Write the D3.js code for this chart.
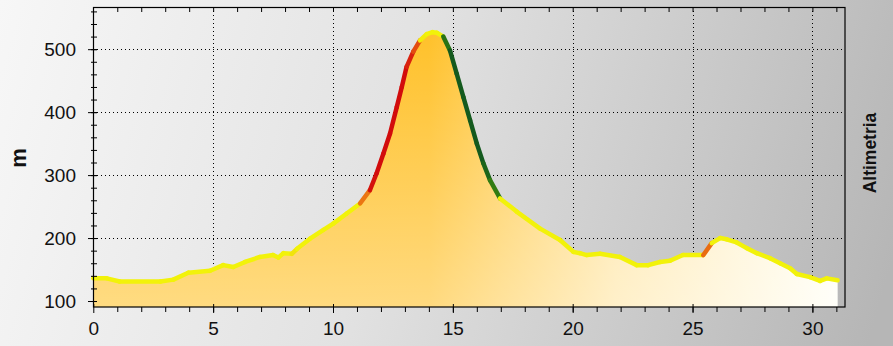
<!DOCTYPE html>
<head>
  <meta charset="utf-8" />
  <script src="https://d3js.org/d3.v7.min.js"></script>
  <style>
    body { margin: 0; }
    text { font-family: "Liberation Sans", Arial, sans-serif; fill: #111; }
    .tick text { font-size: 19px; }
  </style>
</head>
<body>
<script>
  var width = 893, height = 346;

  // distanza (km) e quota (m)
  var km = [0, 0.56, 1.1, 2.8, 3.34, 3.96, 4.87, 5.42, 5.84, 6.33, 6.95, 7.5, 7.72, 7.93, 8.28, 8.5, 9.04, 9.6, 10.01, 10.57,
    11.13, 11.54, 11.82, 12.1, 12.38, 12.66, 12.87, 13.07, 13.35, 13.63, 13.91, 14.15, 14.33, 14.6, 14.88, 15.16, 15.44, 15.72,
    16.0, 16.27, 16.55, 16.97, 17.66, 18.64, 19.47, 20.03, 20.3, 20.58, 21.14, 21.97, 22.67, 23.15, 23.64, 24.06, 24.6, 25.45,
    25.8, 26.15, 26.42, 26.84, 27.26, 27.68, 28.23, 28.65, 29.07, 29.35, 29.9, 30.32, 30.6, 31.05];
  var alt = [136, 136, 131, 131, 134, 145, 148, 157, 154, 162, 170, 173, 169, 176, 175, 183, 199, 213, 223, 239,
    255, 276, 303, 334, 366, 408, 440, 472, 496, 514, 524, 527, 526, 520, 498, 461, 424, 387,
    350, 319, 292, 263, 242, 215, 197, 178, 176, 173, 175, 170, 157, 157, 162, 164, 173, 173,
    192, 200, 198, 193, 184, 176, 168, 160, 152, 143, 138, 132, 136, 133];

  var xMajor = [0, 5, 10, 15, 20, 25, 30];
  var yMajor = [100, 200, 300, 400, 500];

  var data = km.map(function (d, i) { return { km: d, alt: alt[i] }; });

  var x = d3.scaleLinear().domain([0, 31.36]).range([93.3, 845]);
  var y = d3.scaleLinear().domain([90.5, 567]).range([307, 7]);

  // colore in base alla pendenza (m/km)
  var slopeColor = d3.scaleLinear()
    .domain([-110, -70, -45, -35, 35, 45, 70, 100])
    .range(["#145a1e", "#2f7a12", "#8aab1a", "#f2f20a", "#f2f20a", "#ee8a12", "#e03a10", "#d20c0c"])
    .clamp(true);

  var svg = d3.select("body").append("svg")
    .attr("width", width).attr("height", height);

  var defs = svg.append("defs");
  var bg = defs.append("linearGradient").attr("id", "bg")
    .attr("gradientUnits", "userSpaceOnUse")
    .attr("x1", 0).attr("y1", 0).attr("x2", 893).attr("y2", 260);
  bg.append("stop").attr("offset", 0).attr("stop-color", "#f7f7f7");
  bg.append("stop").attr("offset", 0.45).attr("stop-color", "#e2e2e2");
  bg.append("stop").attr("offset", 1).attr("stop-color", "#b6b6b6");

  var fillH = defs.append("linearGradient").attr("id", "fillH")
    .attr("gradientUnits", "userSpaceOnUse")
    .attr("x1", 93).attr("y1", 0).attr("x2", 840).attr("y2", 0);
  fillH.append("stop").attr("offset", 0).attr("stop-color", "#ffc42e");
  fillH.append("stop").attr("offset", 0.45).attr("stop-color", "#ffc12a");
  fillH.append("stop").attr("offset", 0.7).attr("stop-color", "#ffe6a6");
  fillH.append("stop").attr("offset", 1).attr("stop-color", "#fffff6");

  var fillV = defs.append("linearGradient").attr("id", "fillV")
    .attr("gradientUnits", "userSpaceOnUse")
    .attr("x1", 0).attr("y1", 30).attr("x2", 0).attr("y2", 307);
  fillV.append("stop").attr("offset", 0).attr("stop-color", "#fff").attr("stop-opacity", 0);
  fillV.append("stop").attr("offset", 1).attr("stop-color", "#fff").attr("stop-opacity", 0.4);

  svg.append("rect").attr("width", width).attr("height", height).attr("fill", "url(#bg)");

  // griglia
  var grid = svg.append("g").attr("stroke", "#000").attr("stroke-dasharray", "1,3").attr("stroke-width", 1);
  grid.selectAll(".gx").data(xMajor.filter(function (d) { return d > 0; })).join("line")
    .attr("x1", function (d) { return Math.round(x(d)) + 0.5; })
    .attr("x2", function (d) { return Math.round(x(d)) + 0.5; })
    .attr("y1", 7).attr("y2", 307);
  grid.selectAll(".gy").data(yMajor.filter(function (d) { return d > 100; })).join("line")
    .attr("y1", function (d) { return Math.round(y(d)) + 0.5; })
    .attr("y2", function (d) { return Math.round(y(d)) + 0.5; })
    .attr("x1", 93).attr("x2", 845);

  // area
  var area = d3.area().x(function (d) { return x(d.km); }).y0(y.range()[0]).y1(function (d) { return y(d.alt); });
  svg.append("path").datum(data).attr("d", area).attr("fill", "url(#fillH)");
  svg.append("path").datum(data).attr("d", area).attr("fill", "url(#fillV)");

  // linea colorata per pendenza
  var segs = d3.pairs(data);
  svg.append("g").selectAll("line").data(segs).join("line")
    .attr("x1", function (d) { return x(d[0].km); })
    .attr("y1", function (d) { return y(d[0].alt); })
    .attr("x2", function (d) { return x(d[1].km); })
    .attr("y2", function (d) { return y(d[1].alt); })
    .attr("stroke", function (d) { return slopeColor((d[1].alt - d[0].alt) / (d[1].km - d[0].km)); })
    .attr("stroke-width", 4.5)
    .attr("stroke-linecap", "round");

  // cornice
  svg.append("rect").attr("x", 93.5).attr("y", 7.5).attr("width", 751.5).attr("height", 299.5)
    .attr("fill", "none").attr("stroke", "#000").attr("stroke-width", 1.2);

  function clean(g) { g.select(".domain").remove(); g.selectAll("line").attr("stroke", "#000"); }

  // asse x
  svg.append("g").attr("transform", "translate(0,307)")
    .call(d3.axisBottom(x).tickValues(d3.range(1, 32)).tickSize(5).tickFormat(""))
    .call(clean);
  svg.append("g").attr("transform", "translate(0,307)")
    .call(d3.axisBottom(x).tickValues(xMajor).tickSizeInner(6).tickSizeOuter(0).tickPadding(9))
    .call(clean)
    .call(function (g) { g.selectAll("line").attr("y1", -3); });
  // tacche in alto
  svg.append("g").attr("transform", "translate(0,7)")
    .call(d3.axisBottom(x).tickValues(d3.range(1, 32)).tickSize(5).tickFormat(""))
    .call(clean);

  // asse y
  svg.append("g").attr("transform", "translate(93,0)")
    .call(d3.axisLeft(y).tickValues(d3.range(100, 561, 20)).tickSize(3).tickFormat(""))
    .call(clean)
    .call(function (g) { g.selectAll("line").attr("x2", 4).attr("x1", -2); });
  svg.append("g").attr("transform", "translate(93,0)")
    .call(d3.axisLeft(y).tickValues(yMajor).tickSize(5).tickPadding(12))
    .call(clean)
    .call(function (g) { g.selectAll("line").attr("x1", 4); });

  svg.append("text").attr("transform", "translate(26,158) rotate(-90)")
    .attr("text-anchor", "middle").style("font-weight", "bold").style("font-size", "22px").text("m");
  svg.append("text").attr("transform", "translate(876,153) rotate(-90)")
    .attr("text-anchor", "middle").style("font-weight", "bold").style("font-size", "17.5px").text("Altimetria");
</script>
</body>
